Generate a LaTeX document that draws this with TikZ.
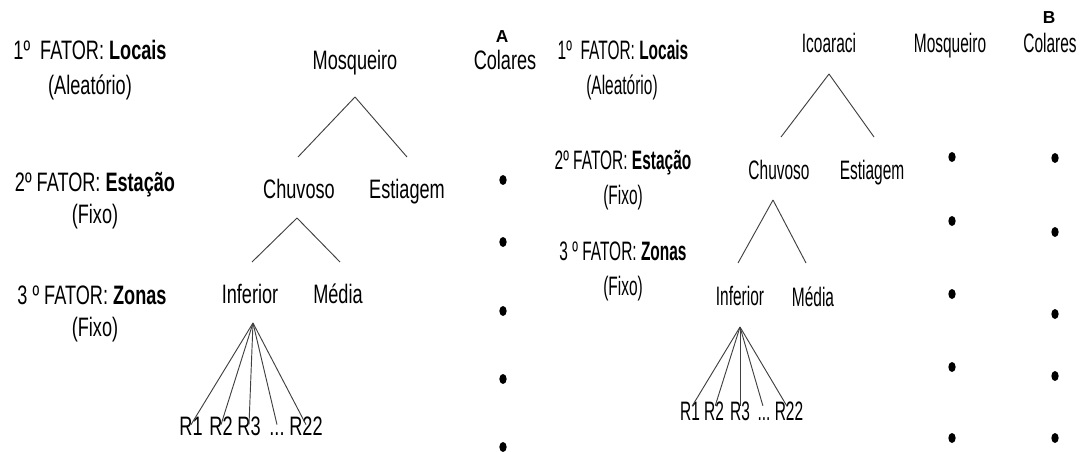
\documentclass[tikz,border=0pt]{standalone}
\usepackage{fontspec}
\setmainfont{Liberation Sans}
\newfontfamily\fontA{Liberation Sans}[FakeStretch=0.68]
\newfontfamily\fontB{Liberation Sans}[FakeStretch=0.58]
\usetikzlibrary{shapes.geometric}

\begin{document}
\begin{tikzpicture}[x=0.75pt,y=-0.75pt]

      \useasboundingbox (0,0) rectangle (1080,452);

      % painel A
      \begin{scope}[every node/.style={inner sep=1pt, yshift=-3pt, text height=0.716em, text depth=0pt, font=\fontA\fontsize{20}{24}\selectfont}]
        \node (fa1) at (90,51)   {1º\ \ FATOR: \textbf{Locais}};
        \node (fa2) at (90,86)   {(Aleatório)};
        \node (fb1) at (95,183)  {2º FATOR: \textbf{Estação}};
        \node (fb2) at (95,215)  {(Fixo)};
        \node (fc1) at (92,296)  {3 º FATOR: \textbf{Zonas}};
        \node (fc2) at (95,328)  {(Fixo)};
        \node (mq)  at (355,61)  {Mosqueiro};
        \node (ch)  at (299,190) {Chuvoso};
        \node (es)  at (407,190) {Estiagem};
        \node (in)  at (250,295) {Inferior};
        \node (md)  at (338,295) {Média};
        \node (r1)  at (191,427) {R1};
        \node (r2)  at (221,427) {R2};
        \node (r3)  at (249,427) {R3};
        \node (rd)  at (277,427) {...};
        \node (r22) at (306,427) {R22};
        \node (co)  at (505,61)  {Colares};
      \end{scope}
      \node[font=\bfseries\fontsize{13}{15}\selectfont, inner sep=0pt] (la) at (502,37) {A};

      \begin{scope}[every node/.style={ellipse, fill=black, inner sep=0pt, minimum width=5.5, minimum height=7.5}]
        \node (a1) at (503,180) {};
        \node (a2) at (503,242) {};
        \node (a3) at (503,311) {};
        \node (a4) at (503,379) {};
        \node (a5) at (503,447) {};
      \end{scope}

      \coordinate (mqp) at (355,97);
      \coordinate (chp) at (297,218);
      \coordinate (inp) at (253,323);
      \coordinate (chq) at (298,157);
      \coordinate (esq) at (407,157);
      \coordinate (inq) at (252,262);
      \coordinate (mdq) at (340,262);

      \begin{scope}[every edge/.style={draw=black!75, line width=0.7pt}]
        \path (mqp) edge (chq);
        \path (mqp) edge (esq);
        \path (chp) edge (inq);
        \path (chp) edge (mdq);
        \path (inp) edge (r1.north);
        \path (inp) edge (r2.north);
        \path (inp) edge (r3.north);
        \path (inp) edge (rd.north);
        \path (inp) edge (r22.north);
      \end{scope}

      % painel B
      \begin{scope}[every node/.style={inner sep=1pt, yshift=-3pt, text height=0.716em, text depth=0pt, font=\fontB\fontsize{20}{24}\selectfont}]
        \node (ga1) at (623,51)  {1º\ \ FATOR: \textbf{Locais}};
        \node (ga2) at (622,86)  {(Aleatório)};
        \node (gb1) at (623,161) {2º FATOR: \textbf{Estação}};
        \node (gb2) at (623,196) {(Fixo)};
        \node (gc1) at (623,252) {3 º FATOR: \textbf{Zonas}};
        \node (gc2) at (623,287) {(Fixo)};
        \node (ic)  at (829,44)  {Icoaraci};
        \node (ch2) at (779,171) {Chuvoso};
        \node (es2) at (872,171) {Estiagem};
        \node (in2) at (740,297) {Inferior};
        \node (md2) at (813,298) {Média};
        \node (s1)  at (690,412) {R1};
        \node (s2)  at (714,412) {R2};
        \node (s3)  at (740,412) {R3};
        \node (sd)  at (764,412) {...};
        \node (s22) at (789,412) {R22};
        \node (mq2) at (950,44)  {Mosqueiro};
        \node (co2) at (1050,44) {Colares};
      \end{scope}
      \node[font=\bfseries\fontsize{13}{15}\selectfont, inner sep=0pt] (lb) at (1049,18) {B};

      \begin{scope}[every node/.style={ellipse, fill=black, inner sep=0pt, minimum width=5.5, minimum height=7.5}]
        \node (b1) at (952,157) {};
        \node (b2) at (952,221) {};
        \node (b3) at (952,294) {};
        \node (b4) at (952,367) {};
        \node (b5) at (952,438) {};
        \node (c1) at (1055,158) {};
        \node (c2) at (1055,232) {};
        \node (c3) at (1055,314) {};
        \node (c4) at (1055,376) {};
        \node (c5) at (1055,438) {};
      \end{scope}

      \coordinate (icp)  at (829,74);
      \coordinate (ch2p) at (773,200);
      \coordinate (in2p) at (740,327);
      \coordinate (ch2q) at (781,137);
      \coordinate (es2q) at (874,137);
      \coordinate (in2q) at (738,263);
      \coordinate (md2q) at (806,263);

      \begin{scope}[every edge/.style={draw=black!75, line width=0.7pt}]
        \path (icp) edge (ch2q);
        \path (icp) edge (es2q);
        \path (ch2p) edge (in2q);
        \path (ch2p) edge (md2q);
        \path (in2p) edge[shorten >=3pt] (s1.north);
        \path (in2p) edge[shorten >=3pt] (s2.north);
        \path (in2p) edge[shorten >=3pt] (s3.north);
        \path (in2p) edge[shorten >=3pt] (sd.north);
        \path (in2p) edge[shorten >=3pt] (s22.north);
      \end{scope}

    \end{tikzpicture}
\end{document}
